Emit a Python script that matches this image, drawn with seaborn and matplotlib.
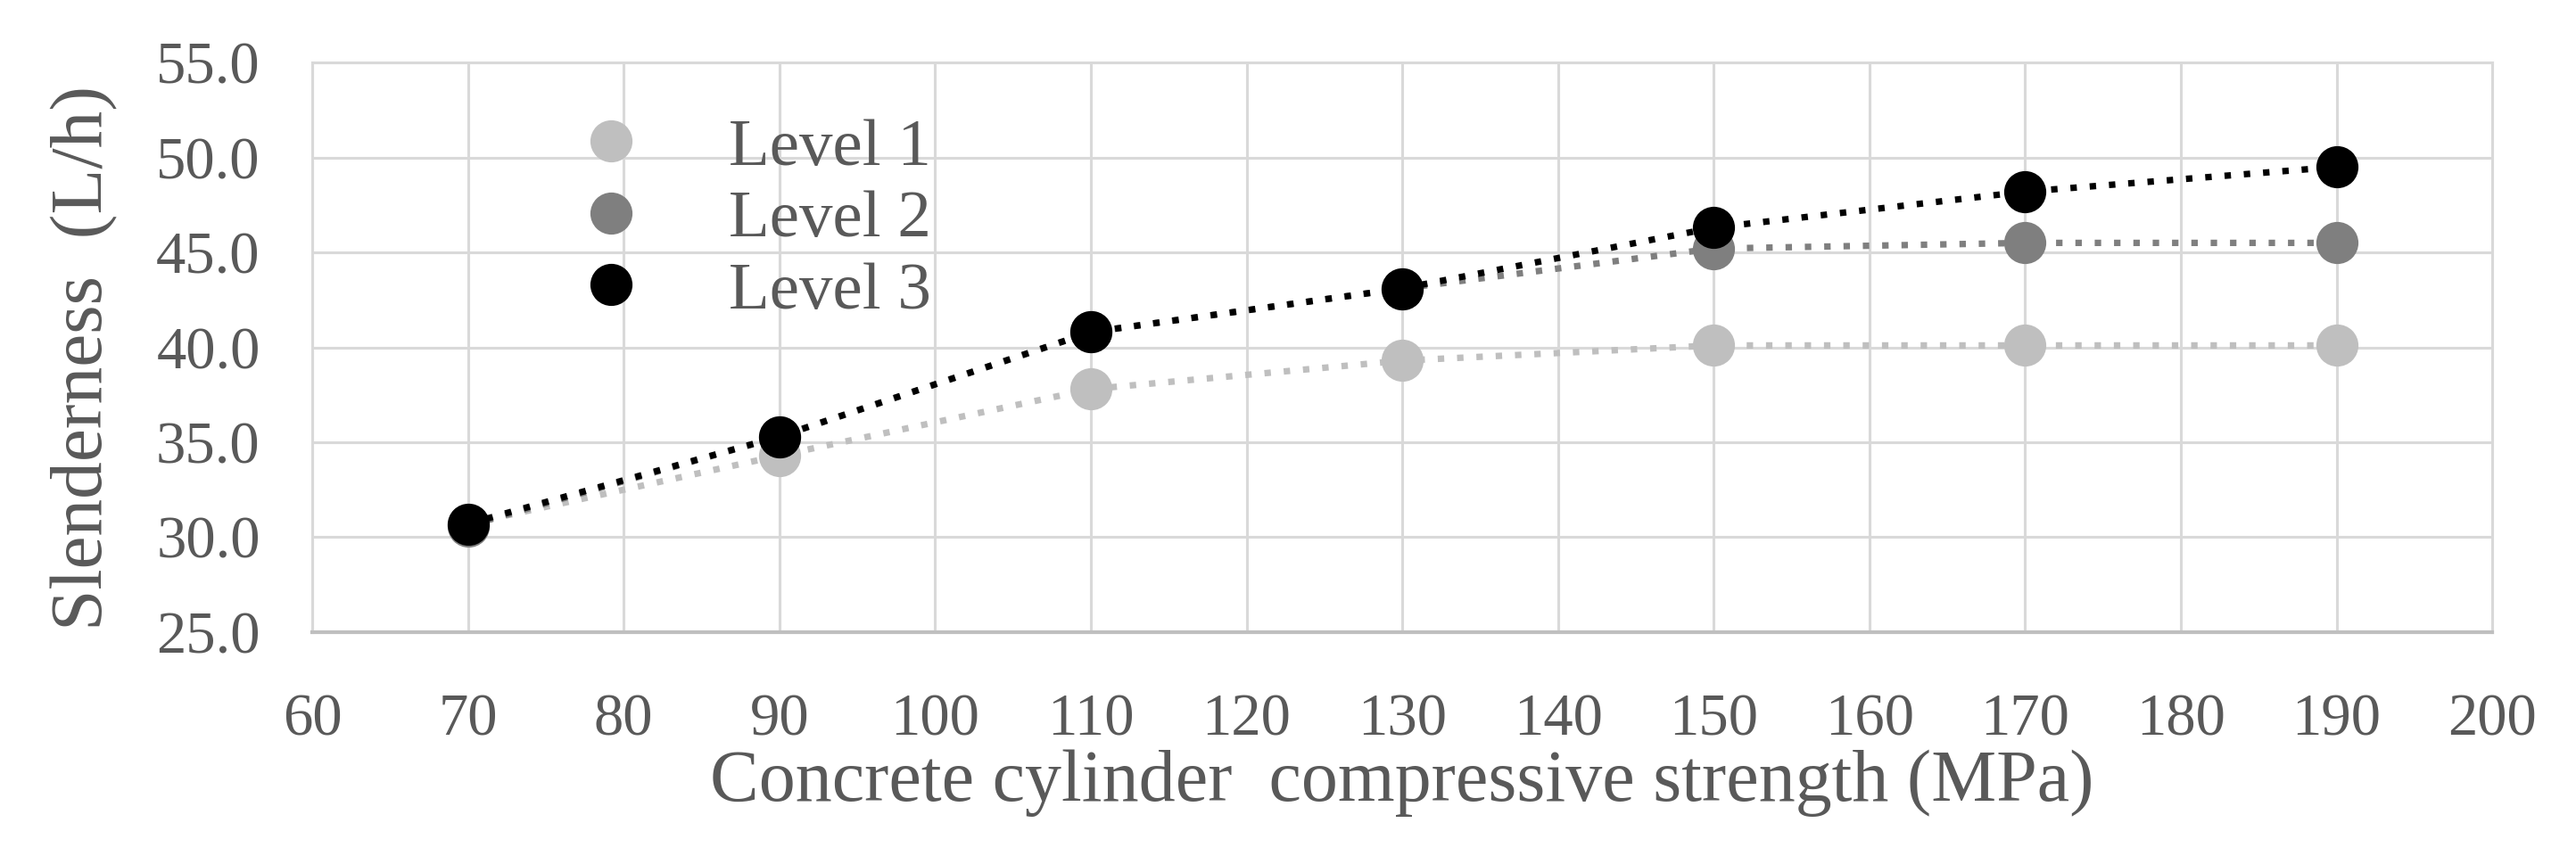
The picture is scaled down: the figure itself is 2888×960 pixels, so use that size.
import matplotlib
matplotlib.use("Agg")
import matplotlib.pyplot as plt
from matplotlib.lines import Line2D
import numpy as np
import pandas as pd
import seaborn as sns

# data
strength = [70, 90, 110, 130, 150, 170, 190]
level1 = [30.7, 34.3, 37.8, 39.3, 40.1, 40.1, 40.1]
level2 = [30.6, 35.3, 40.8, 43.1, 45.2, 45.5, 45.5]
level3 = [30.7, 35.3, 40.8, 43.1, 46.3, 48.2, 49.5]
levels = ["Level 1", "Level 2", "Level 3"]
colors = ["#bfbfbf", "#7f7f7f", "#000000"]
x_ticks = list(range(60, 201, 10))
y_ticks = [25, 30, 35, 40, 45, 50, 55]

df = pd.concat([
    pd.DataFrame({"strength": strength, "slenderness": vals, "level": lv})
    for lv, vals in zip(levels, [level1, level2, level3])
], ignore_index=True)

sns.set_style("white")
plt.rcParams["font.family"] = ["Liberation Serif", "DejaVu Serif"]
text_color = "#595959"
grid_color = "#d9d9d9"

fig, ax = plt.subplots(figsize=(14.44, 4.8), dpi=200)
fig.subplots_adjust(left=0.1212, right=0.9675, top=0.927, bottom=0.2615)

sns.lineplot(
    data=df, x="strength", y="slenderness", hue="level",
    hue_order=levels, palette=colors, errorbar=None, legend=False,
    marker="o", markersize=17, markeredgewidth=0,
    linestyle=(0, (1, 2)), linewidth=2.6, ax=ax,
)

ax.set_xlim(60, 200)
ax.set_ylim(25, 55)
ax.set_xticks(x_ticks)
ax.set_yticks(y_ticks)
ax.set_yticklabels([f"{v:.1f}" for v in y_ticks])
ax.grid(True, color=grid_color, linewidth=1.1)
ax.set_axisbelow(True)
for side in ["left", "top", "right"]:
    ax.spines[side].set_color(grid_color)
    ax.spines[side].set_linewidth(1.1)
ax.spines["bottom"].set_color("#bfbfbf")
ax.spines["bottom"].set_linewidth(1.5)

ax.tick_params(axis="both", length=0, labelsize=24, colors=text_color)
ax.tick_params(axis="x", pad=24.5)
ax.tick_params(axis="y", pad=21)

ax.set_xlabel("Concrete cylinder  compressive strength (MPa)", fontsize=29.5, color=text_color)
ax.set_ylabel("Slenderness  (L/h)", fontsize=30, color=text_color)
ax.xaxis.set_label_coords(0.5, -0.206)
ax.yaxis.set_label_coords(-0.089, 0.482)

handles = [
    Line2D([], [], linestyle="none", marker="o", markersize=17,
           markerfacecolor=c, markeredgewidth=0)
    for c in colors
]
ax.legend(
    handles, levels, loc="upper left", bbox_to_anchor=(0.1217, 0.903),
    frameon=False, fontsize=27, labelcolor=text_color,
    handlelength=1.0, handletextpad=1.26, labelspacing=0.16,
    borderpad=0, borderaxespad=0,
)

fig.savefig("out.png", dpi=200)
